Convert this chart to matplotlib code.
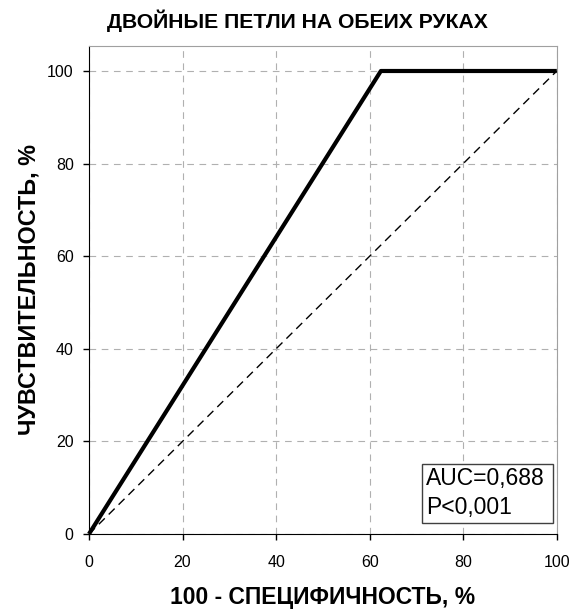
import numpy as np
import matplotlib.pyplot as plt
from matplotlib.patches import Rectangle

plt.rcParams['font.family'] = ['Liberation Sans', 'DejaVu Sans']

# ROC data
fpr = [0, 62.4, 100]
tpr = [0, 100, 100]
diag = [0, 100]
ticks = [0, 20, 40, 60, 80, 100]
auc_lines = ['AUC=0,688', 'P<0,001']

fig = plt.figure(figsize=(5.74, 6.10), dpi=100)
ax = fig.add_axes([0.155, 0.1246, 0.815, 0.800])

ax.plot(diag, diag, color='black', linestyle=(0, (6, 4)), linewidth=1.0)
ax.plot(fpr, tpr, color='black', linewidth=3.0, solid_capstyle='butt',
        clip_on=False, zorder=5)

ax.set_xlim(0, 100)
ax.set_ylim(0, 105.4)
ax.set_xticks(ticks)
ax.set_yticks(ticks)
ax.grid(True, color='#b0b0b0', linestyle=(0, (6, 5)), linewidth=0.8)

for s in ['top', 'right']:
    ax.spines[s].set_color('#a0a0a0')
for s in ['left', 'bottom']:
    ax.spines[s].set_color('black')
ax.tick_params(direction='out', length=4.5, width=1, labelsize=11.5)
ax.tick_params(axis='x', pad=10.5)
ax.tick_params(axis='y', pad=6.5)

fig.text(297 / 574, 1 - 21 / 610, 'ДВОЙНЫЕ ПЕТЛИ НА ОБЕИХ РУКАХ',
         fontsize=15.2, fontweight='bold', ha='center', va='center')
ax.set_xlabel('100 - СПЕЦИФИЧНОСТЬ, %', fontsize=16.5, fontweight='bold',
              labelpad=12)
ax.set_ylabel('ЧУВСТВИТЕЛЬНОСТЬ, %', fontsize=16.8, fontweight='bold',
              labelpad=4.5)

# AUC box
ax.add_patch(Rectangle((71.2, 2.4), 27.9, 12.7, facecolor='white',
                       edgecolor='#404040', linewidth=1, zorder=6))
ax.text(72.0, 10.6, auc_lines[0], fontsize=16.5, va='baseline', ha='left',
        zorder=7)
ax.text(72.0, 4.3, auc_lines[1], fontsize=16.5, va='baseline', ha='left',
        zorder=7)

plt.savefig('out.png', dpi=100)
